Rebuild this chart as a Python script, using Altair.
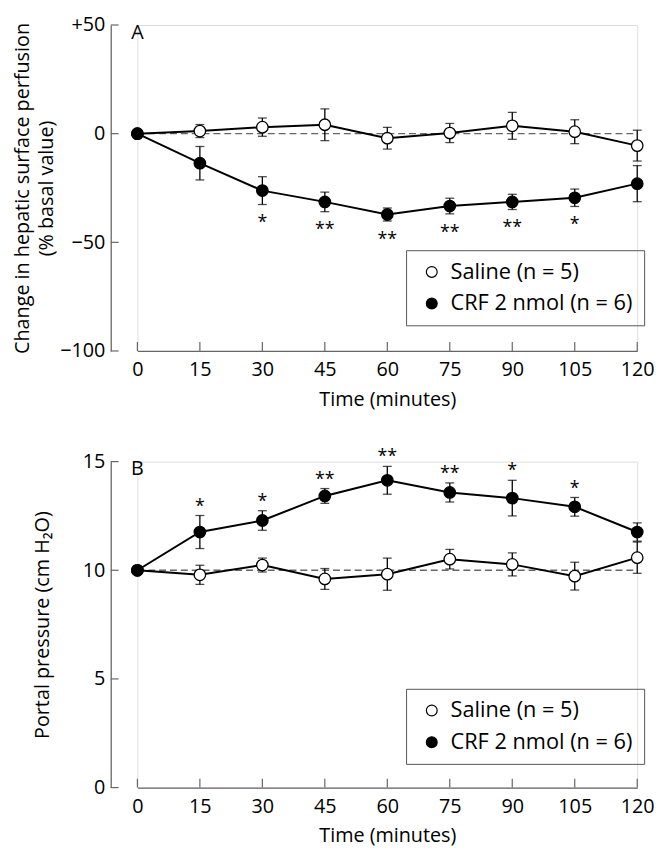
import altair as alt
import pandas as pd

# ---------------- data ----------------
time = [0, 15, 30, 45, 60, 75, 90, 105, 120]
series_names = ["Saline (n = 5)", "CRF 2 nmol (n = 6)"]

# Panel A: change in hepatic surface perfusion (% basal value)
a_saline = [0, 1.2, 3.0, 4.1, -2.1, 0.3, 3.6, 0.9, -5.5]
a_saline_se = [0, 3.0, 4.2, 7.3, 5.0, 4.4, 6.2, 5.5, 7.1]
a_crf = [0, -13.6, -26.2, -31.4, -37.2, -33.3, -31.4, -29.5, -23.0]
a_crf_se = [0, 7.7, 6.4, 4.5, 3.0, 3.6, 3.5, 4.0, 8.3]
a_sig = ["", "", "*", "**", "**", "**", "**", "*", ""]
a_ticks = [-100, -50, 0, 50]

# Panel B: portal pressure (cm H2O)
b_saline = [10, 9.79, 10.24, 9.6, 9.82, 10.51, 10.27, 9.73, 10.58]
b_saline_se = [0, 0.44, 0.32, 0.48, 0.74, 0.45, 0.53, 0.64, 0.72]
b_crf = [10, 11.76, 12.29, 13.42, 14.14, 13.58, 13.32, 12.92, 11.76]
b_crf_se = [0, 0.76, 0.45, 0.34, 0.64, 0.44, 0.82, 0.43, 0.42]
b_sig = ["", "*", "*", "**", "**", "**", "*", "*", ""]
b_ticks = [0, 5, 10, 15]

FONT = "Open Sans"
GRAY = "#666666"
W, H = 506, 330
Y_OFFSET = 27


def make_df(sal, sal_se, crf, crf_se, sig):
    rows = []
    for name, m, s, sg in [(series_names[0], sal, sal_se, [""] * len(time)),
                           (series_names[1], crf, crf_se, sig)]:
        for t, mv, sv, g in zip(time, m, s, sg):
            rows.append({"t": t, "series": name, "mean": mv, "se": sv,
                         "lo": mv - sv, "hi": mv + sv, "sig": g})
    return pd.DataFrame(rows)


def panel(df, ticks, ytitle, letter, ref, stars_below, legend_y, title_pad):
    ymin, ymax = ticks[0], ticks[-1]
    xs = alt.Scale(domain=[0, 120], nice=False, zero=False)
    ys = alt.Scale(domain=[ymin, ymax], nice=False, zero=False)
    x_axis = alt.Axis(values=time, ticks=False, tickSize=0, grid=False,
                      domainColor=GRAY, domainWidth=1.3, labelPadding=9,
                      labelFlush=False,
                      labelFontSize=20, labelColor="black", labelFont=FONT,
                      titleFontSize=20, titleFontWeight="normal", titleFont=FONT,
                      titleColor="black", titlePadding=10)
    y_axis = alt.Axis(values=ticks, ticks=False, tickSize=0, grid=False,
                      offset=Y_OFFSET, domainColor=GRAY, domainWidth=1.3,
                      labelPadding=6, labelFontSize=20, labelColor="black",
                      labelFont=FONT, labelFlush=False,
                      labelExpr="datum.value > 0 && " + str(ymin) + " < 0 ? '+' + datum.label : datum.label",
                      titleFontSize=20, titleFontWeight="normal", titleFont=FONT,
                      titleColor="black", titlePadding=title_pad, titleLineHeight=25)

    def X(field="t"):
        return alt.X(field, type="quantitative", scale=xs, axis=x_axis,
                     title="Time (minutes)")

    def Y(field):
        return alt.Y(field, type="quantitative", scale=ys, axis=y_axis,
                     title=ytitle)

    base = alt.Chart(df)

    refline = alt.Chart(pd.DataFrame({"r": [ref]})).mark_rule(
        color="#666666", strokeDash=[7, 4], strokeWidth=1.3
    ).encode(x=alt.datum(0), x2=alt.datum(120), y=Y("r"))

    ebars = base.transform_filter("datum.se > 0").mark_rule(
        color="black", strokeWidth=1.3).encode(x=X(), y=Y("lo"), y2="hi")
    cap_lo = base.transform_filter("datum.se > 0").mark_tick(
        color="black", orient="horizontal", size=9, thickness=1.3
    ).encode(x=X(), y=Y("lo"))
    cap_hi = base.transform_filter("datum.se > 0").mark_tick(
        color="black", orient="horizontal", size=9, thickness=1.3
    ).encode(x=X(), y=Y("hi"))

    lines = base.mark_line(color="black", strokeWidth=2).encode(
        x=X(), y=Y("mean"), detail="series:N", order="t:Q")

    points = base.mark_point(filled=True, size=135, stroke="black",
                             strokeWidth=1.3, opacity=1).encode(
        x=X(), y=Y("mean"),
        fill=alt.Fill("series:N",
                      scale=alt.Scale(domain=series_names, range=["white", "black"]),
                      sort=series_names,
                      legend=alt.Legend(title=None, orient="none",
                                        legendX=W - 234, legendY=legend_y,
                                        direction="vertical",
                                        strokeColor="#555555", padding=11,
                                        labelFont=FONT, labelFontSize=22,
                                        labelColor="black", labelLimit=400,
                                        symbolType="circle", symbolSize=120,
                                        symbolStrokeColor="black",
                                        symbolStrokeWidth=1.2, symbolOffset=4,
                                        rowPadding=10, labelOffset=8)))

    star_field = "lo" if stars_below else "hi"
    stars = base.transform_filter("datum.sig != ''").mark_text(
        font=FONT, fontSize=18, align="center", baseline="middle",
        dy=19 if stars_below else -9, color="black"
    ).encode(x=X(), y=Y(star_field), text="sig:N")

    xt = alt.Chart(pd.DataFrame({"t": time})).mark_rule(
        color=GRAY, strokeWidth=1.2).encode(
        x=X(), y=alt.value(H), y2=alt.value(H - 9))
    yt = alt.Chart(pd.DataFrame({"v": ticks})).mark_rule(
        color=GRAY, strokeWidth=1.2).encode(
        y=Y("v"), x=alt.value(-Y_OFFSET), x2=alt.value(-Y_OFFSET + 8))

    label = alt.Chart(pd.DataFrame({"l": [letter]})).mark_text(
        font=FONT, fontSize=20, align="center", baseline="middle", dy=8,
        color="black"
    ).encode(x=alt.datum(0), y=alt.datum(ymax), text="l:N")

    return alt.layer(refline, xt, yt, ebars, cap_lo, cap_hi, lines, points,
                     stars, label).properties(width=W, height=H)


df_a = make_df(a_saline, a_saline_se, a_crf, a_crf_se, a_sig)
df_b = make_df(b_saline, b_saline_se, b_crf, b_crf_se, b_sig)

pa = panel(df_a, a_ticks, ["Change in hepatic surface perfusion", "(% basal value)"],
           "A", 0, True, 228, 3)
pb = panel(df_b, b_ticks, "Portal pressure (cm H\u2082O)", "B", 10, False, 230, 30)

chart = alt.vconcat(pa, pb, spacing=38).resolve_scale(
    fill="independent", x="independent", y="independent"
).resolve_legend(fill="independent").properties(
    padding={"left": 3, "top": 1, "right": 0, "bottom": 0}
).configure_view(stroke=None).configure(font=FONT)

chart.save("out.html", embed_options={"renderer": "svg", "actions": False})
